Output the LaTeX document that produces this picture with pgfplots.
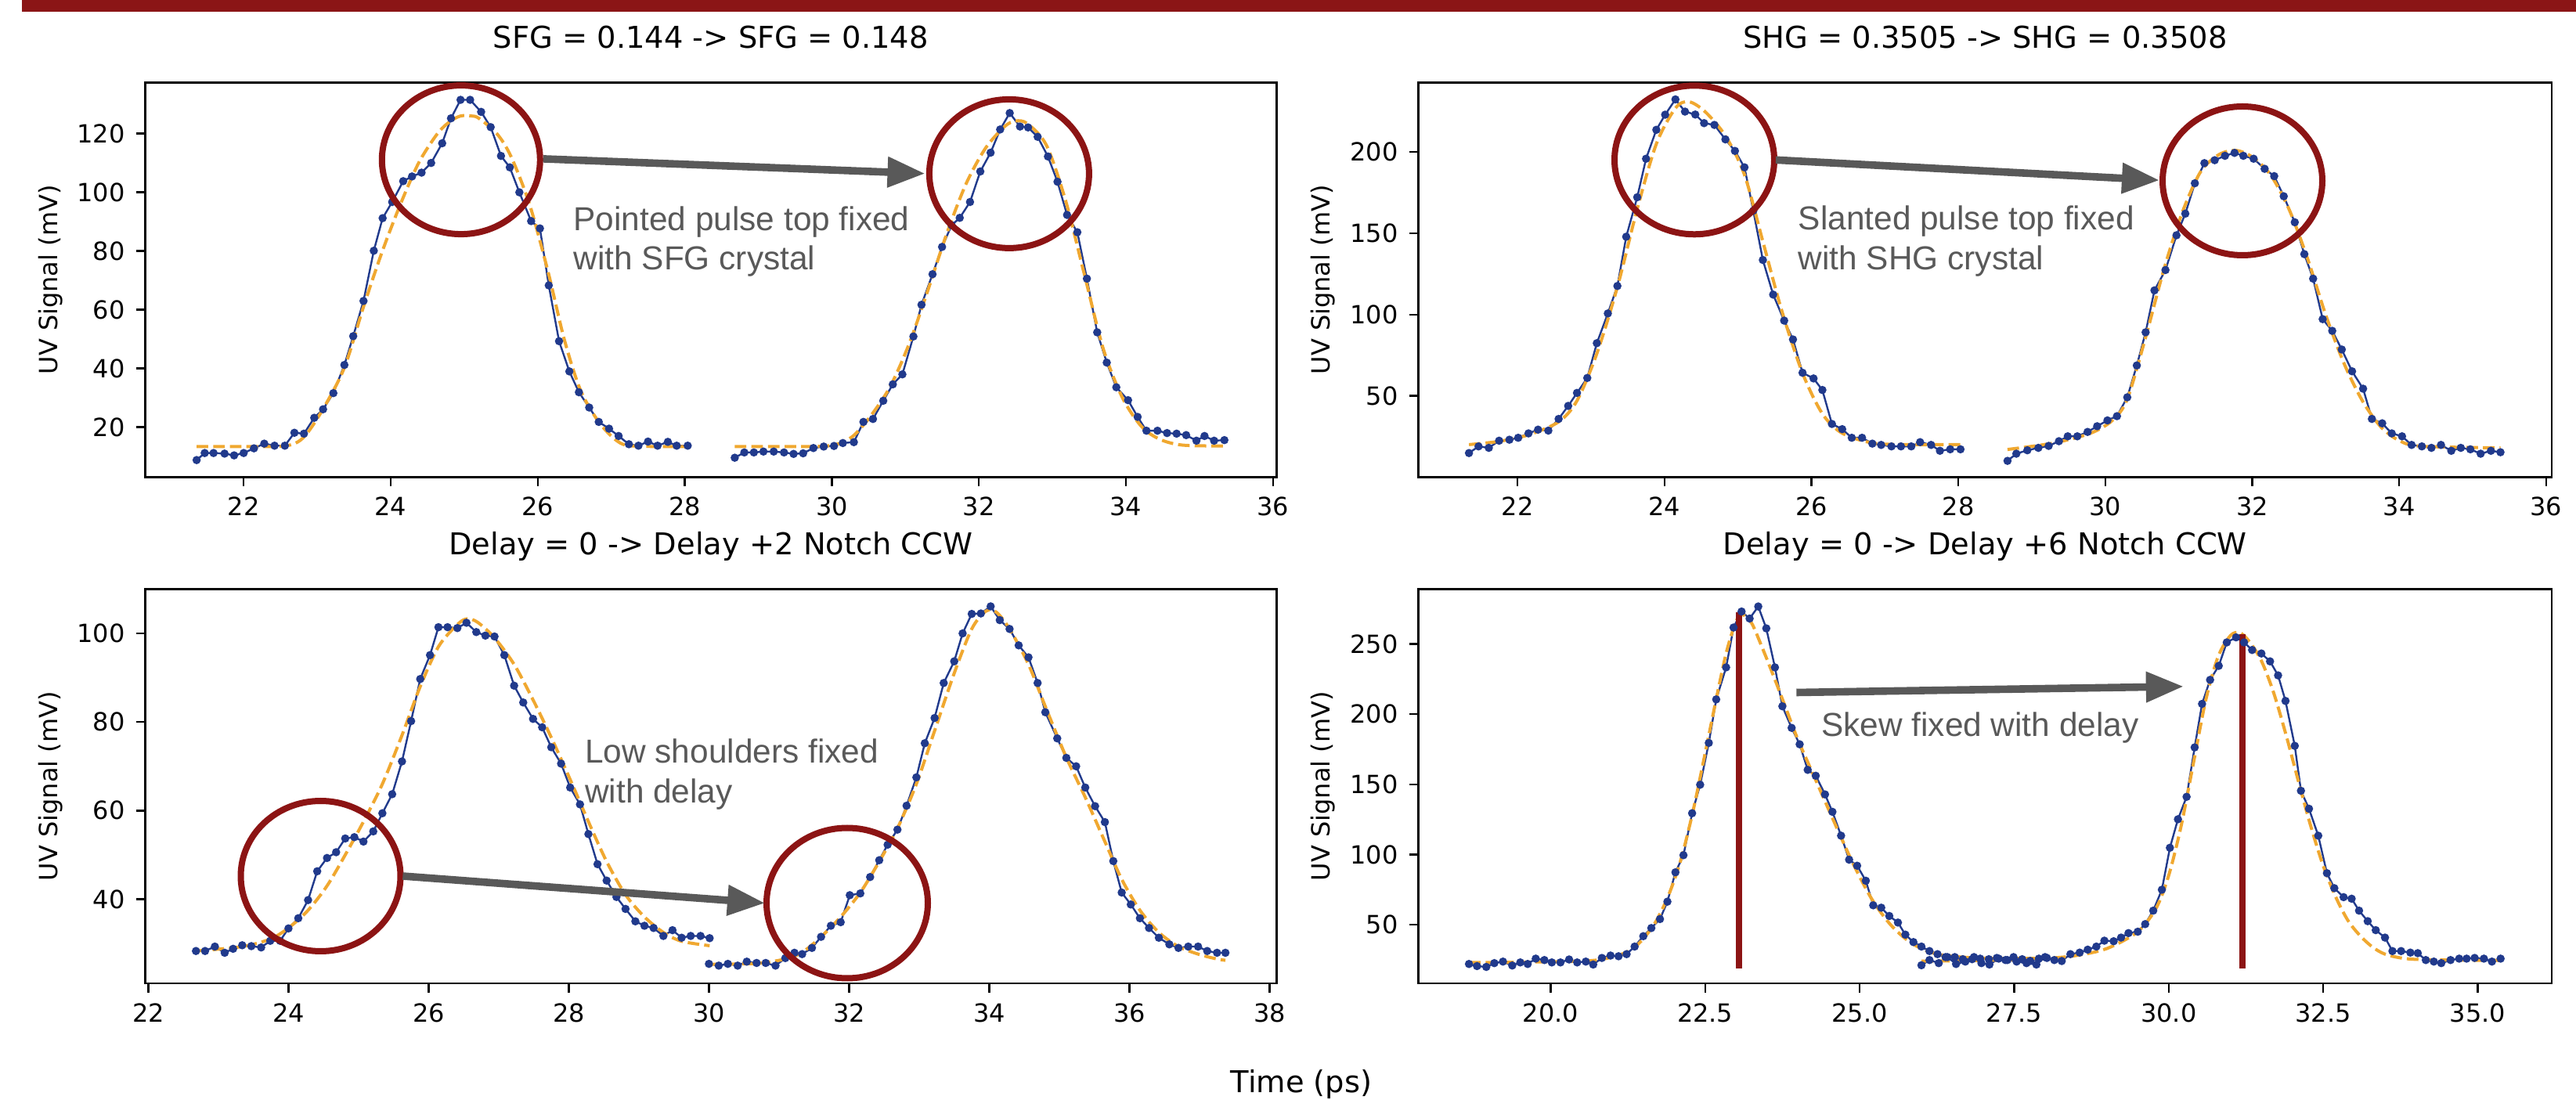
\documentclass[border=0pt]{standalone}
\usepackage{fontspec}
\setmainfont{DejaVu Sans}
\newfontfamily\annfont{Liberation Sans}
\usepackage{pgfplots}
\pgfplotsset{compat=1.18}
\usetikzlibrary{arrows.meta}

\definecolor{band}{RGB}{139,21,22}
\definecolor{circ}{RGB}{140,20,20}
\definecolor{datablue}{RGB}{33,58,140}
\definecolor{fitorange}{RGB}{240,168,48}
\definecolor{anngrey}{RGB}{89,89,89}

\pgfplotsset{
  panel/.style={
    scale only axis,
    anchor=south west,
    axis line style={line width=0.6pt},
    tick align=outside,
    xtick pos=left, ytick pos=left,
    major tick length=2.9pt,
    every tick/.style={black,line width=0.6pt},
    tick label style={font=\fontsize{8}{9.6}\selectfont},
    /pgf/number format/assume math mode=true,
    ylabel={UV Signal (mV)},
    every axis y label/.style={at={(axis description cs:-0.0838,0.5)},rotate=90,anchor=center,font=\fontsize{8}{9.6}\selectfont},
    title style={at={(axis description cs:0.5,1)},anchor=base,yshift=5pt,font=\fontsize{9.6}{11.5}\selectfont},
  },
  meas/.style={datablue, line width=0.6pt, mark=*, mark size=1pt, mark options={solid,fill=datablue,draw=datablue}},
  fit/.style={fitorange, line width=1pt, dash pattern=on 3.7pt off 1.6pt, no marks, smooth},
}
\tikzset{ann/.style={anchor=base west, text=anngrey, inner sep=0pt, font=\annfont\fontsize{10.6}{12.7}\selectfont}}

\begin{document}
\begin{tikzpicture}
\path[use as bounding box] (0,0) rectangle (822.5pt,351pt);
\fill[band] (7pt,347.25pt) rectangle (822.5pt,351pt);

% SFG
\begin{axis}[panel, at={(46.35pt,198.65pt)}, width=361.25pt, height=126pt,
  xmin=20.66, xmax=36.05, ymin=3, ymax=137.4,
  xtick={22,24,...,36}, ytick={20,40,...,120},
  title={SFG = 0.144 -> SFG = 0.148}]
\addplot[meas] coordinates {(21.36,8.8)(21.47,11.2)(21.59,11.2)(21.74,11.0)(21.87,10.4)(22.00,11.2)(22.14,12.8)(22.28,14.4)(22.42,13.7)(22.56,13.7)(22.69,18.1)(22.82,17.8)(22.96,23.2)(23.08,26.1)(23.22,31.6)(23.37,41.2)(23.49,51.0)(23.63,63.0)(23.77,80.1)(23.89,91.2)(24.02,96.7)(24.17,103.8)(24.29,105.4)(24.42,106.7)(24.55,110.0)(24.70,116.7)(24.82,125.2)(24.95,131.5)(25.08,131.5)(25.23,127.4)(25.36,122.2)(25.50,112.4)(25.62,108.5)(25.75,100.0)(25.91,90.2)(26.03,87.7)(26.15,68.3)(26.29,49.3)(26.43,39.0)(26.56,31.9)(26.70,26.7)(26.83,21.8)(26.97,19.5)(27.10,17.0)(27.24,14.2)(27.37,13.7)(27.50,15.1)(27.63,13.7)(27.77,15.0)(27.89,13.7)(28.04,13.7)};
\addplot[meas] coordinates {(28.68,9.6)(28.81,11.4)(28.94,11.4)(29.07,11.7)(29.21,11.7)(29.35,11.4)(29.48,10.9)(29.61,11.1)(29.75,12.9)(29.89,13.4)(30.03,13.6)(30.15,14.6)(30.30,14.9)(30.43,21.8)(30.56,22.8)(30.70,29.0)(30.83,34.6)(30.96,38.0)(31.11,50.9)(31.22,61.7)(31.37,72.1)(31.50,81.4)(31.63,88.8)(31.74,91.3)(31.88,96.7)(32.02,107.1)(32.16,113.5)(32.29,121.4)(32.42,127.0)(32.56,122.4)(32.67,122.1)(32.80,118.9)(32.94,112.2)(33.07,103.6)(33.20,92.3)(33.34,86.4)(33.47,70.6)(33.61,52.3)(33.74,42.0)(33.87,33.6)(34.03,29.2)(34.16,23.5)(34.28,18.8)(34.43,18.8)(34.56,18.0)(34.69,17.8)(34.82,17.3)(34.96,15.4)(35.07,17.0)(35.20,15.4)(35.34,15.6)};
\addplot[fit] coordinates {(21.36,13.4)(22.0,13.4)(22.5,13.5)(22.7,14.5)(22.85,17.5)(23.08,26.2)(23.37,40.3)(23.63,61)(23.88,79.5)(24.13,95.8)(24.38,110)(24.63,119.8)(24.8,124)(24.95,126)(25.1,126)(25.2,125.2)(25.45,119.8)(25.64,112)(25.89,95.8)(26.14,73)(26.36,50)(26.58,32.7)(26.83,21.8)(27.08,15.3)(27.3,13.6)(28.04,13.4)};
\addplot[fit] coordinates {(28.68,13.4)(29.5,13.4)(30.0,13.8)(30.28,16.8)(30.54,24.2)(30.8,34.1)(31.06,48.9)(31.32,67.6)(31.57,86.4)(31.83,103.1)(32.09,115)(32.35,122.4)(32.5,124.3)(32.66,123.4)(32.92,116)(33.18,97.2)(33.43,72.6)(33.69,46.9)(33.95,30.2)(34.21,20.3)(34.46,15.9)(34.77,13.9)(35.34,13.6)};
\end{axis}

% SHG
\begin{axis}[panel, at={(452.85pt,198.65pt)}, width=361.95pt, height=126pt,
  xmin=20.65, xmax=36.08, ymin=0, ymax=242.8,
  xtick={22,24,...,36}, ytick={50,100,...,200},
  title={SHG = 0.3505 -> SHG = 0.3508}]
\addplot[meas] coordinates {(21.34,14.8)(21.47,18.9)(21.61,18.0)(21.75,22.4)(21.89,23.0)(22.01,24.2)(22.15,26.9)(22.28,29.2)(22.42,28.6)(22.56,35.8)(22.69,43.8)(22.81,51.8)(22.95,61.0)(23.08,82.4)(23.23,100.7)(23.36,117.6)(23.48,147.9)(23.63,172.2)(23.75,195.9)(23.89,213.7)(24.01,223.0)(24.15,232.4)(24.28,224.9)(24.42,223.1)(24.54,217.8)(24.68,216.7)(24.83,207.8)(24.96,200.7)(25.09,190.6)(25.21,163.9)(25.34,133.6)(25.48,112.3)(25.63,96.3)(25.75,84.7)(25.88,64.2)(26.03,60.7)(26.15,53.6)(26.28,32.7)(26.42,29.5)(26.55,24.2)(26.69,24.2)(26.83,20.6)(26.95,19.8)(27.09,18.9)(27.22,18.9)(27.36,18.9)(27.48,21.5)(27.63,19.8)(27.75,16.2)(27.89,17.1)(28.03,17.1)};
\addplot[meas] coordinates {(28.67,10.0)(28.79,14.4)(28.94,16.5)(29.09,18.0)(29.23,19.2)(29.37,22.1)(29.49,25.1)(29.62,25.1)(29.76,27.8)(29.89,31.3)(30.03,34.9)(30.16,37.5)(30.30,49.1)(30.43,68.7)(30.55,89.1)(30.67,114.9)(30.82,127.4)(30.97,148.8)(31.09,162.1)(31.22,180.8)(31.35,193.2)(31.49,195.0)(31.63,197.7)(31.76,199.5)(31.88,197.7)(32.02,195.9)(32.17,189.7)(32.30,185.2)(32.43,172.8)(32.58,156.8)(32.71,137.2)(32.83,122.1)(32.96,97.2)(33.09,90.0)(33.22,78.5)(33.36,65.1)(33.51,54.4)(33.63,35.8)(33.77,33.1)(33.90,26.9)(34.04,25.1)(34.17,19.8)(34.31,18.9)(34.44,18.0)(34.57,19.8)(34.71,16.2)(34.84,18.0)(34.97,17.1)(35.11,14.4)(35.25,16.2)(35.38,15.3)};
\addplot[fit] coordinates {(21.34,20)(21.75,22)(22.15,26)(22.56,34)(22.81,47)(23.08,76)(23.36,117)(23.63,165)(23.89,205)(24.15,227)(24.33,231)(24.55,225)(24.83,210)(25.09,186)(25.34,145)(25.6,102)(25.88,64)(26.15,39)(26.42,27)(26.83,21)(27.3,20)(28.03,20)};
\addplot[fit] coordinates {(28.67,17)(29.3,21)(29.8,27)(30.1,35)(30.3,48)(30.55,86)(30.8,128)(31.05,163)(31.3,188)(31.55,198.5)(31.78,201)(32.0,197)(32.25,186)(32.5,165)(32.75,135)(33.0,100)(33.25,70)(33.5,47)(33.75,31)(34.0,22.5)(34.3,19)(35.38,18)};
\end{axis}

% Delay +2
\begin{axis}[panel, at={(46.35pt,37pt)}, width=361.25pt, height=125.9pt,
  xmin=21.955, xmax=38.1, ymin=21, ymax=110,
  xtick={22,24,...,38}, ytick={40,60,...,100},
  title={Delay = 0 -> Delay +2 Notch CCW}]
\addplot[meas] coordinates {(22.68,28.3)(22.81,28.3)(22.95,29.3)(23.09,27.9)(23.21,28.8)(23.34,29.6)(23.47,29.4)(23.61,29.1)(23.74,30.6)(23.88,30.6)(24.00,33.4)(24.14,35.7)(24.28,39.8)(24.41,46.3)(24.55,49.3)(24.68,50.6)(24.81,53.7)(24.94,54.0)(25.07,53.0)(25.21,55.3)(25.34,59.4)(25.48,63.7)(25.62,71.1)(25.75,80.2)(25.88,89.7)(26.02,95.1)(26.14,101.4)(26.27,101.4)(26.41,101.2)(26.54,102.4)(26.68,100.3)(26.81,99.5)(26.94,99.3)(27.08,95.1)(27.22,88.2)(27.35,84.4)(27.49,80.7)(27.62,78.8)(27.75,74.3)(27.89,70.6)(28.02,65.2)(28.16,61.4)(28.28,54.7)(28.41,47.9)(28.54,44.2)(28.68,40.5)(28.81,37.8)(28.95,35.0)(29.08,34.0)(29.21,33.5)(29.35,31.7)(29.48,33.0)(29.61,31.3)(29.74,31.7)(29.88,31.7)(30.01,31.2)};
\addplot[meas] coordinates {(30.00,25.4)(30.14,25.0)(30.27,25.4)(30.41,25.0)(30.54,25.9)(30.68,25.6)(30.81,25.6)(30.95,25.0)(31.09,26.7)(31.22,27.9)(31.33,27.6)(31.47,29.0)(31.60,31.5)(31.74,34.0)(31.88,34.8)(32.01,40.9)(32.16,41.3)(32.30,45.0)(32.43,48.8)(32.55,52.3)(32.69,55.7)(32.82,61.1)(32.96,67.5)(33.08,75.2)(33.22,80.9)(33.35,88.8)(33.50,93.7)(33.62,100.0)(33.75,104.4)(33.88,104.5)(34.02,106.1)(34.15,103.0)(34.29,101.0)(34.42,97.3)(34.56,94.6)(34.69,88.8)(34.80,82.2)(34.97,76.3)(35.10,71.9)(35.24,70.0)(35.37,65.2)(35.51,61.0)(35.65,57.4)(35.77,48.6)(35.89,41.5)(36.02,38.8)(36.15,35.7)(36.28,33.5)(36.42,31.3)(36.57,29.8)(36.70,29.0)(36.84,29.3)(36.98,29.3)(37.11,28.3)(37.25,27.9)(37.37,27.9)};
\addplot[fit] coordinates {(22.68,28.3)(23.34,29.3)(23.74,31)(24.0,33.5)(24.28,37.5)(24.55,43)(24.81,50)(25.07,57.5)(25.34,66)(25.62,77)(25.88,88)(26.14,97)(26.41,102)(26.55,103.3)(26.7,102.5)(26.94,99)(27.22,93)(27.49,85)(27.75,76.5)(28.02,67)(28.28,57.5)(28.54,48.5)(28.81,41)(29.08,36)(29.35,32.5)(29.61,30.5)(30.01,29.5)};
\addplot[fit] coordinates {(30.0,25.3)(30.68,25.5)(31.09,26.5)(31.33,28)(31.6,31.5)(31.88,36)(32.16,41.5)(32.43,48.5)(32.69,56)(32.96,66)(33.22,78)(33.5,91)(33.75,101)(33.95,105)(34.1,104.8)(34.29,101)(34.56,93)(34.8,83.5)(35.1,72)(35.37,63)(35.65,53)(35.89,44.5)(36.15,37.5)(36.42,32.5)(36.7,29.3)(37.0,27.5)(37.25,26.5)(37.37,26.2)};
\end{axis}

% Delay +6
\begin{axis}[panel, at={(452.85pt,37pt)}, width=361.95pt, height=125.9pt,
  xmin=17.86, xmax=36.2, ymin=8.2, ymax=289.1,
  xtick={20,22.5,...,35}, ytick={50,100,...,250},
  xticklabel style={/pgf/number format/fixed,/pgf/number format/fixed zerofill,/pgf/number format/precision=1},
  title={Delay = 0 -> Delay +6 Notch CCW}]
\addplot[meas] coordinates {(18.68,22.0)(18.81,20.5)(18.96,19.9)(19.09,22.6)(19.23,23.7)(19.38,20.9)(19.51,23.1)(19.63,22.0)(19.76,25.8)(19.90,24.8)(20.02,23.1)(20.16,23.1)(20.30,25.2)(20.43,23.1)(20.57,23.7)(20.69,21.6)(20.83,26.3)(20.97,28.0)(21.10,27.5)(21.23,29.0)(21.36,34.4)(21.50,41.8)(21.63,47.6)(21.77,54.0)(21.89,66.4)(22.02,87.3)(22.15,99.5)(22.29,129.4)(22.42,149.7)(22.56,179.5)(22.68,210.5)(22.84,233.3)(22.96,261.7)(23.09,273.1)(23.22,268.1)(23.36,276.7)(23.49,261.1)(23.63,233.3)(23.75,205.6)(23.90,190.2)(24.03,178.5)(24.16,160.3)(24.29,156.1)(24.44,142.8)(24.56,130.4)(24.70,113.4)(24.83,96.3)(24.96,92.0)(25.10,81.3)(25.22,63.8)(25.35,62.1)(25.48,56.2)(25.62,51.5)(25.74,42.9)(25.87,37.6)(26.00,34.4)(26.13,31.2)(26.26,29.0)(26.39,26.9)(26.54,26.9)(26.67,25.4)(26.82,25.4)(26.95,25.8)(27.09,25.4)(27.22,26.3)(27.36,24.8)(27.49,26.9)(27.63,25.4)(27.76,24.2)(27.90,25.8)(28.03,26.3)};
\addplot[meas] coordinates {(26.00,21.1)(26.13,24.8)(26.28,22.6)(26.42,26.9)(26.56,22.0)(26.71,23.7)(26.85,26.9)(26.97,22.6)(27.10,21.6)(27.25,25.8)(27.39,24.8)(27.54,23.7)(27.70,22.6)(27.86,21.6)(28.00,26.9)(28.15,24.8)(28.27,24.1)(28.41,29.0)(28.56,30.1)(28.69,32.2)(28.83,34.4)(28.96,38.6)(29.11,38.2)(29.23,40.8)(29.35,44.0)(29.50,45.0)(29.62,50.4)(29.75,60.0)(29.89,74.9)(30.02,104.8)(30.15,125.1)(30.29,141.1)(30.42,176.3)(30.54,207.3)(30.67,224.4)(30.81,234.4)(30.94,251.1)(31.09,254.7)(31.22,251.1)(31.35,245.7)(31.50,243.2)(31.64,237.6)(31.77,227.6)(31.89,209.4)(32.04,177.4)(32.14,145.4)(32.27,132.6)(32.42,113.4)(32.56,86.7)(32.68,76.0)(32.83,69.6)(32.96,68.5)(33.08,60.0)(33.22,52.5)(33.35,46.1)(33.50,40.8)(33.62,31.2)(33.76,31.2)(33.91,30.1)(34.03,29.7)(34.16,24.8)(34.29,23.7)(34.41,22.6)(34.56,24.8)(34.70,25.8)(34.82,25.8)(34.95,26.3)(35.10,25.8)(35.23,23.7)(35.37,25.8)};
\addplot[fit] coordinates {(18.68,23)(20.5,24)(21.0,27)(21.3,32)(21.5,40)(21.7,52)(21.9,70)(22.1,95)(22.3,130)(22.5,172)(22.7,215)(22.85,245)(23.0,266)(23.1,271)(23.25,265)(23.4,250)(23.6,228)(23.8,205)(24.0,182)(24.3,152)(24.6,122)(24.9,93)(25.2,68)(25.5,50)(25.8,38)(26.1,31)(26.4,28)(26.8,26.5)(27.2,26)(28.03,26)};
\addplot[fit] coordinates {(26.0,24)(27.0,24.5)(28.0,26)(28.5,28)(29.0,33)(29.5,45)(29.8,62)(30.0,85)(30.2,120)(30.4,165)(30.6,210)(30.8,241)(31.0,256)(31.15,258)(31.3,252)(31.5,238)(31.7,215)(31.9,185)(32.1,152)(32.3,120)(32.5,92)(32.7,70)(32.9,53)(33.1,42)(33.3,34)(33.5,29)(33.8,26)(34.2,25)(35.37,24.5)};
\addplot[circ, line width=2pt, no marks] coordinates {(23.05,18.8)(23.05,272.8)};
\addplot[circ, line width=2pt, no marks] coordinates {(31.19,18.8)(31.19,256.8)};
\end{axis}

% annotations, in pixel units of the reference (origin top left)
\begin{scope}[shift={(0pt,351pt)}, x=0.25pt, y=-0.25pt]
\begin{scope}[circ, line width=2pt]
\draw (588.8,204.1) ellipse [x radius=101, y radius=95];
\draw (1288.9,221.9) ellipse [x radius=102, y radius=95];
\draw (2164,204.3) ellipse [x radius=102, y radius=95];
\draw (2864,231) ellipse [x radius=102, y radius=95];
\draw (409.5,1119) ellipse [x radius=102, y radius=96];
\draw (1082,1153.5) ellipse [x radius=103, y radius=96];
\end{scope}
\begin{scope}[anngrey, line width=2.4pt, -{Triangle[length=12pt,width=9.3pt]}]
\draw (693.7,202.9) -- (1181.5,221.7);
\draw (2268,204.3) -- (2758,230.2);
\draw (514.4,1119) -- (977,1153.5);
\draw (2294.3,884.5) -- (2788.8,876.8);
\end{scope}
\node[ann] at (731.8,294.7) {Pointed pulse top fixed};
\node[ann] at (731.8,344.9) {with SFG crystal};
\node[ann] at (2296,293.8) {Slanted pulse top fixed};
\node[ann] at (2296,345) {with SHG crystal};
\node[ann] at (746.4,974.8) {Low shoulders fixed};
\node[ann] at (746.4,1025.3) {with delay};
\node[ann] at (2325.4,940.3) {Skew fixed with delay};
\node[anchor=base, inner sep=0pt, font=\fontsize{9.6}{11.5}\selectfont] at (1662,1396) {Time (ps)};
\end{scope}
\end{tikzpicture}
\end{document}
